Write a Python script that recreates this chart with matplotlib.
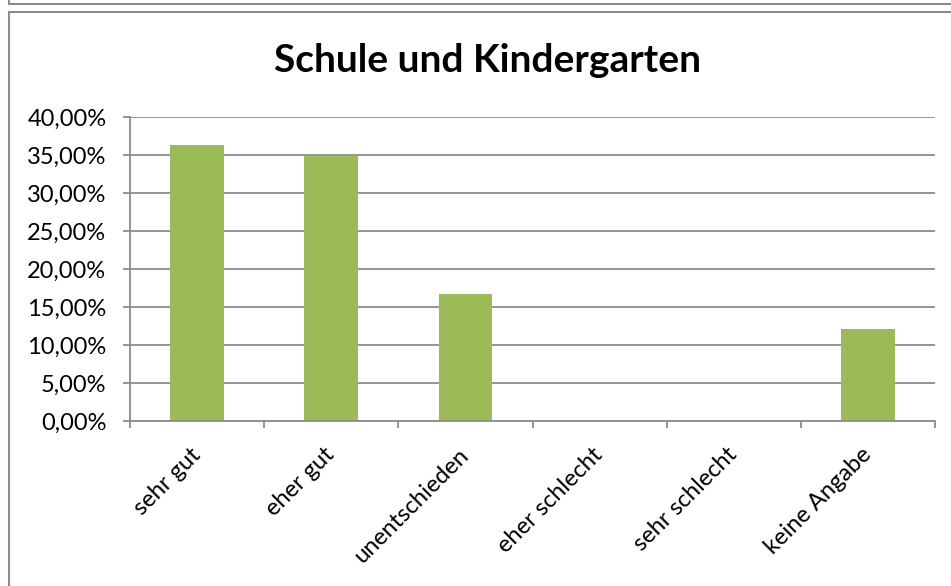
import matplotlib.pyplot as plt
from matplotlib.lines import Line2D
from matplotlib.ticker import FuncFormatter

# Data (share of answers)
categories = ['sehr gut', 'eher gut', 'unentschieden', 'eher schlecht', 'sehr schlecht', 'keine Angabe']
shares = [36.36, 34.85, 16.67, 0.0, 0.0, 12.12]
y_ticks = [0, 5, 10, 15, 20, 25, 30, 35, 40]

W, H = 951, 586
plt.rcParams['font.family'] = ['Lato', 'DejaVu Sans']

fig = plt.figure(figsize=(W / 100, H / 100), dpi=100)
fig.patch.set_facecolor('white')

# frame lines (chart border as in the spreadsheet screenshot)
grey = '#8c8c8c'
fig.add_artist(Line2D([9 / W, 1], [1 - 3.5 / H, 1 - 3.5 / H], color=grey, lw=1.5))
fig.add_artist(Line2D([9 / W, 9 / W], [1, 1 - 3.5 / H], color=grey, lw=1.5))
fig.add_artist(Line2D([9 / W, 1], [1 - 12 / H, 1 - 12 / H], color=grey, lw=1.5))
fig.add_artist(Line2D([9 / W, 9 / W], [0, 1 - 12 / H], color=grey, lw=1.5))

ax = fig.add_axes([130 / W, (H - 421) / H, 805 / W, 304 / H])
x = range(len(categories))
ax.bar(x, shares, width=0.4, color='#9bbb59', zorder=2)

ax.set_xlim(-0.5, len(categories) - 0.5)
ax.set_ylim(0, 40)
ax.set_yticks(y_ticks)
ax.yaxis.set_major_formatter(FuncFormatter(lambda v, p: f'{v:.2f}'.replace('.', ',') + '%'))
ax.grid(axis='y', color='#8c8c8c', lw=1.3, zorder=1)

# category boundaries as tick marks
ax.set_xticks([i - 0.5 for i in range(len(categories) + 1)], minor=False)
ax.set_xticklabels([])
ax.set_xticks(list(x), minor=True)
ax.set_xticklabels(categories, minor=True, rotation=45, ha='right', va='center',
                   rotation_mode='anchor', fontsize=17)
ax.tick_params(axis='x', which='minor', length=0, pad=22)
ax.tick_params(axis='x', which='major', length=5, width=1.3, color=grey)
ax.tick_params(axis='y', length=5, width=1.3, color=grey, labelsize=17, pad=12)

for side in ['top', 'right']:
    ax.spines[side].set_visible(False)
for side in ['left', 'bottom']:
    ax.spines[side].set_color(grey)
    ax.spines[side].set_linewidth(1.3)

fig.text(487 / W, 1 - 60 / H, 'Schule und Kindergarten', ha='center', va='center',
         fontsize=28, fontweight='bold')

fig.savefig('out.png', dpi=100)
